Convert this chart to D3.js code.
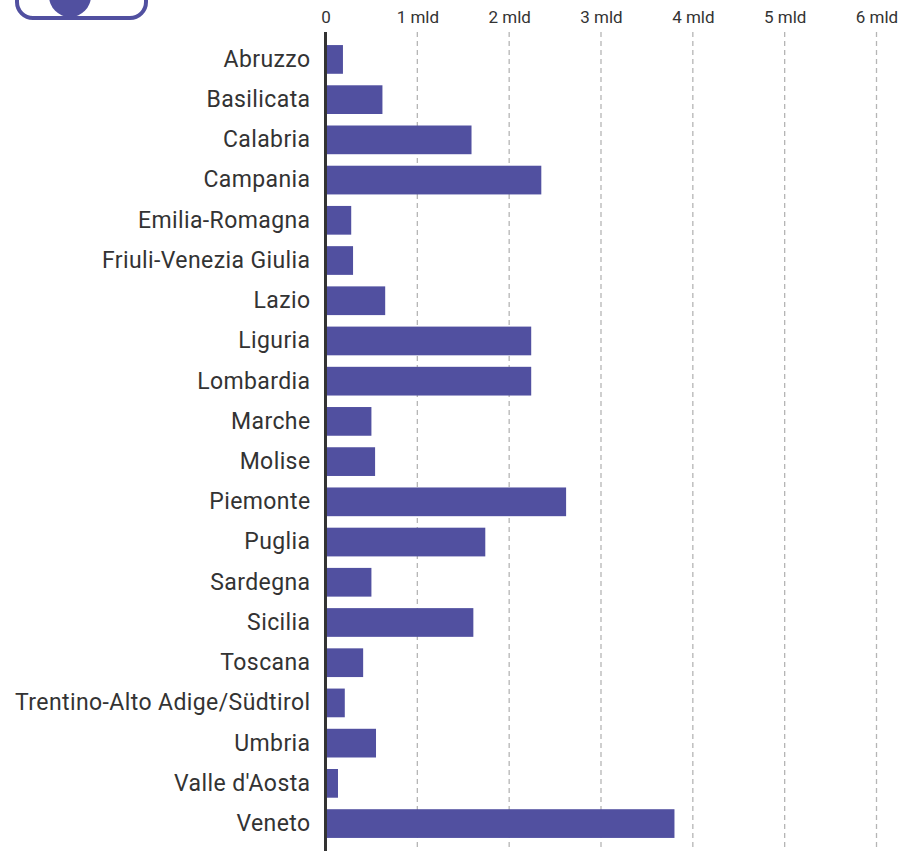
<!DOCTYPE html>
<html><head><meta charset="utf-8">
<script src="https://cdn.jsdelivr.net/npm/d3@7"></script>
<style>html,body{margin:0;padding:0;background:#fff;}svg{display:block;font-family:Roboto,"Noto Sans",sans-serif;}</style>
</head><body>
<script>
const regions = ["Abruzzo","Basilicata","Calabria","Campania","Emilia-Romagna","Friuli-Venezia Giulia","Lazio","Liguria","Lombardia","Marche","Molise","Piemonte","Puglia","Sardegna","Sicilia","Toscana","Trentino-Alto Adige/Südtirol","Umbria","Valle d'Aosta","Veneto"];
const values = [0.19,0.62,1.59,2.35,0.28,0.30,0.65,2.24,2.24,0.50,0.54,2.62,1.74,0.50,1.61,0.41,0.21,0.55,0.136,3.80];
const tickValues = [0,1,2,3,4,5,6];
const tickLabels = ["0","1 mld","2 mld","3 mld","4 mld","5 mld","6 mld"];

const W = 902, H = 851;
const svg = d3.select("body").append("svg").attr("width", W).attr("height", H);

const x = d3.scaleLinear().domain([0,6]).range([325.5, 876.5]);
const y = d3.scaleBand().domain(regions).range([33, 850]).paddingInner(0.286).paddingOuter(0.3);

// logo
const logo = svg.append("g");
logo.append("rect").attr("x",17).attr("y",-30).attr("width",129).attr("height",48).attr("rx",16)
  .attr("fill","none").attr("stroke","#5150a0").attr("stroke-width",4);
logo.append("circle").attr("cx",70).attr("cy",-4).attr("r",21).attr("fill","#5150a0");

// gridlines
svg.append("g").selectAll("line").data(tickValues.slice(1)).join("line")
  .attr("x1", d=>x(d)).attr("x2", d=>x(d)).attr("y1", 32).attr("y2", H)
  .attr("stroke","#b5b5b5").attr("stroke-width",1.3).attr("stroke-dasharray","5,4");

// top axis labels
const xAxis = d3.axisTop(x).tickValues(tickValues).tickFormat((d,i)=>tickLabels[i]).tickSize(0).tickPadding(0);
const gx = svg.append("g").attr("transform","translate(0,22.5)").call(xAxis);
gx.select(".domain").remove();
gx.selectAll("text").attr("font-size",17).attr("fill","#333").attr("font-family","Roboto");

// bars
svg.append("g").selectAll("rect").data(regions).join("rect")
  .attr("x", x(0)).attr("y", d=>y(d)).attr("height", y.bandwidth())
  .attr("width", (d,i)=>x(values[i]) - x(0)).attr("fill","#5150a0");

// y axis
const yAxis = d3.axisLeft(y).tickSize(0).tickPadding(15);
const gy = svg.append("g").attr("transform",`translate(${x(0)},0)`).call(yAxis);
gy.select(".domain").remove();
gy.selectAll("text").attr("font-size",23).attr("letter-spacing","0.4px").attr("fill","#333").attr("font-family","Roboto");

svg.append("line").attr("x1",x(0)).attr("x2",x(0)).attr("y1",32).attr("y2",H)
  .attr("stroke","#333").attr("stroke-width",3);
</script>
</body></html>
